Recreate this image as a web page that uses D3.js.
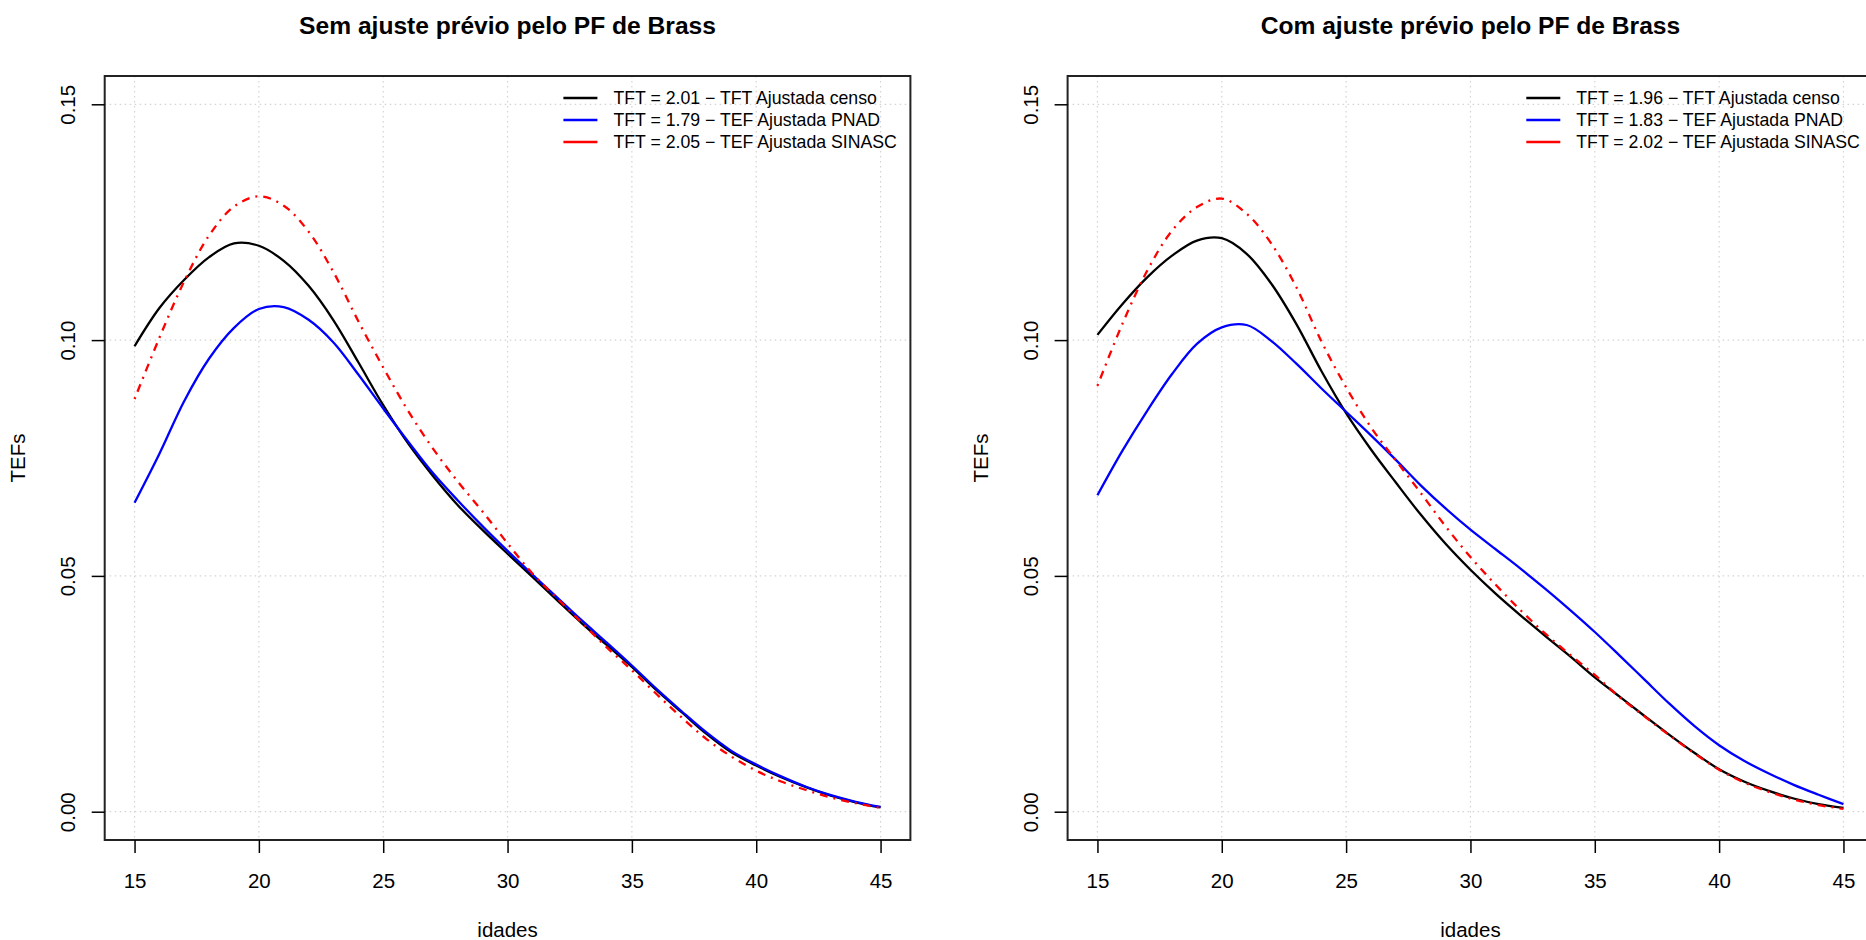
<!DOCTYPE html>
<html>
<head>
<meta charset="utf-8">
<script src="https://cdn.jsdelivr.net/npm/d3@7"></script>
<style>
  body { margin: 0; background: #fff; }
  text { font-family: "Liberation Sans", Arial, Helvetica, sans-serif; fill: #000; }
</style>
</head>
<body>
<div id="chart"></div>
<script>
const svgWidth = 1866
const svgHeight = 940

// Ages (x axis)
const ages = [15, 16, 17, 18, 19, 20, 21, 22, 23, 24, 25, 26, 27, 28, 29, 30,
  31, 32, 33, 34, 35, 36, 37, 38, 39, 40, 41, 42, 43, 44, 45]

const xTicks = [15, 20, 25, 30, 35, 40, 45]
const yTicks = [0, 0.05, 0.10, 0.15]
const yTickLabels = ["0.00", "0.05", "0.10", "0.15"]

// Left panel: sem ajuste previo
const semCenso = [0.0987, 0.1068, 0.1128, 0.1176, 0.1205, 0.1200, 0.1168, 0.1115, 0.1042, 0.0953,
  0.0862, 0.0781, 0.0712, 0.0650, 0.0597, 0.0547, 0.0498, 0.0448, 0.0399, 0.0353,
  0.0307, 0.0257, 0.0211, 0.0165, 0.0126, 0.0098, 0.0073, 0.0052, 0.0034, 0.0020, 0.0009]
const semPnad = [0.0655, 0.0759, 0.0871, 0.0961, 0.1026, 0.1066, 0.1070, 0.1043, 0.0995, 0.0927,
  0.0855, 0.0785, 0.0718, 0.0660, 0.0605, 0.0553, 0.0503, 0.0454, 0.0405, 0.0358,
  0.0310, 0.0260, 0.0213, 0.0168, 0.0129, 0.0100, 0.0075, 0.0053, 0.0035, 0.0021, 0.0010]
const semSinasc = [0.0875, 0.1005, 0.1125, 0.1222, 0.1283, 0.1305, 0.1285, 0.1230, 0.1144, 0.1040,
  0.0942, 0.0850, 0.0770, 0.0700, 0.0636, 0.0569, 0.0505, 0.0452, 0.0400, 0.0348,
  0.0300, 0.0249, 0.0200, 0.0154, 0.0117, 0.0087, 0.0064, 0.0046, 0.0030, 0.0018, 0.0008]

// Right panel: com ajuste previo
const comCenso = [0.1011, 0.1076, 0.1133, 0.1179, 0.1211, 0.1216, 0.1183, 0.1119, 0.1034, 0.0935,
  0.0845, 0.0768, 0.0698, 0.0630, 0.0568, 0.0513, 0.0463, 0.0417, 0.0373, 0.0330,
  0.0285, 0.0244, 0.0203, 0.0163, 0.0125, 0.0090, 0.0064, 0.0044, 0.0028, 0.0016, 0.0008]
const comPnad = [0.0671, 0.0765, 0.0850, 0.0928, 0.0992, 0.1027, 0.1032, 0.0998, 0.0950, 0.0898,
  0.0848, 0.0798, 0.0746, 0.0692, 0.0643, 0.0598, 0.0557, 0.0516, 0.0473, 0.0428,
  0.0381, 0.0331, 0.0280, 0.0229, 0.0182, 0.0141, 0.0108, 0.0081, 0.0057, 0.0036, 0.0016]
const comSinasc = [0.0903, 0.1034, 0.1147, 0.1232, 0.1282, 0.1300, 0.1268, 0.1204, 0.1112, 0.0998,
  0.0900, 0.0815, 0.0745, 0.0676, 0.0605, 0.0540, 0.0482, 0.0428, 0.0378, 0.0333,
  0.0290, 0.0243, 0.0202, 0.0162, 0.0124, 0.0089, 0.0062, 0.0042, 0.0026, 0.0014, 0.0006]

const titles = ["Sem ajuste prévio pelo PF de Brass", "Com ajuste prévio pelo PF de Brass"]
const legendSem = ["TFT = 2.01 − TFT Ajustada censo", "TFT = 1.79 − TEF Ajustada PNAD", "TFT = 2.05 − TEF Ajustada SINASC"]
const legendCom = ["TFT = 1.96 − TFT Ajustada censo", "TFT = 1.83 − TEF Ajustada PNAD", "TFT = 2.02 − TEF Ajustada SINASC"]

const seriesColors = ["#000000", "#0000ff", "#ff0000"]
const seriesDash = [null, null, "2,6,8,6"]

let svg = d3
  .select("#chart")
  .append("svg")
  .attr("width", svgWidth)
  .attr("height", svgHeight)

let baseFont = 20.5

function drawPanel(left, right, title, series, labels) {
  let top = 76
  let bottom = 840

  let x = d3.scaleLinear().domain([13.8, 46.2]).range([left, right])
  let y = d3.scaleLinear().domain([-0.006, 0.156]).range([bottom, top])

  let g = svg.append("g")

  // dotted grid
  g.selectAll(".vgrid")
    .data(xTicks)
    .enter()
    .append("line")
    .attr("x1", d => x(d))
    .attr("x2", d => x(d))
    .attr("y1", top)
    .attr("y2", bottom)
    .attr("stroke", "#d3d3d3")
    .attr("stroke-width", 1.2)
    .attr("stroke-dasharray", "1.5,3.5")

  g.selectAll(".hgrid")
    .data(yTicks)
    .enter()
    .append("line")
    .attr("x1", left)
    .attr("x2", right)
    .attr("y1", d => y(d))
    .attr("y2", d => y(d))
    .attr("stroke", "#d3d3d3")
    .attr("stroke-width", 1.2)
    .attr("stroke-dasharray", "1.5,3.5")

  // curves
  let line = d3.line()
    .x((d, i) => x(ages[i]))
    .y(d => y(d))
    .curve(d3.curveCatmullRom)

  series.forEach((s, i) => {
    g.append("path")
      .datum(s)
      .attr("d", line)
      .attr("fill", "none")
      .attr("stroke", seriesColors[i])
      .attr("stroke-width", 2.3)
      .attr("stroke-dasharray", seriesDash[i])
  })

  // box
  g.append("rect")
    .attr("x", left)
    .attr("y", top)
    .attr("width", right - left)
    .attr("height", bottom - top)
    .attr("fill", "none")
    .attr("stroke", "#222")
    .attr("stroke-width", 2)

  // x axis
  let xAxis = d3.axisBottom(x)
    .tickValues(xTicks)
    .tickSize(13)
    .tickPadding(20)
    .tickFormat(d3.format("d"))

  let xg = g.append("g")
    .attr("transform", `translate(0, ${bottom})`)
    .call(xAxis)
  xg.select(".domain").remove()
  xg.selectAll("line").attr("stroke", "#000").attr("stroke-width", 1.5)
  xg.selectAll("text")
    .attr("font-size", baseFont)
    .attr("font-family", "Liberation Sans, Arial, sans-serif")
    .attr("fill", "#000")

  // y axis with rotated labels
  let yAxis = d3.axisLeft(y)
    .tickValues(yTicks)
    .tickSize(13)
    .tickFormat((d, i) => yTickLabels[i])

  let yg = g.append("g")
    .attr("transform", `translate(${left}, 0)`)
    .call(yAxis)
  yg.select(".domain").remove()
  yg.selectAll("line").attr("stroke", "#000").attr("stroke-width", 1.5)
  yg.selectAll("text")
    .attr("x", null)
    .attr("dy", null)
    .attr("transform", "translate(-30, 0) rotate(-90)")
    .attr("text-anchor", "middle")
    .attr("font-size", baseFont)
    .attr("font-family", "Liberation Sans, Arial, sans-serif")
    .attr("fill", "#000")

  // titles and axis labels
  svg.append("text")
    .attr("x", (left + right) / 2)
    .attr("y", 34)
    .attr("text-anchor", "middle")
    .attr("font-size", 24.6)
    .attr("font-weight", "bold")
    .text(title)

  svg.append("text")
    .attr("x", (left + right) / 2)
    .attr("y", 937)
    .attr("text-anchor", "middle")
    .attr("font-size", baseFont)
    .text("idades")

  svg.append("text")
    .attr("transform", `translate(${left - 80}, ${(top + bottom) / 2}) rotate(-90)`)
    .attr("text-anchor", "middle")
    .attr("font-size", baseFont)
    .text("TEFs")

  // legend (top right, no box)
  let legend = g.append("g")
    .attr("transform", `translate(${right - 297}, ${top + 22})`)

  labels.forEach((lab, i) => {
    legend.append("line")
      .attr("x1", -50)
      .attr("x2", -16)
      .attr("y1", i * 22)
      .attr("y2", i * 22)
      .attr("stroke", seriesColors[i])
      .attr("stroke-width", 2.3)

    legend.append("text")
      .attr("x", 0)
      .attr("y", i * 22)
      .attr("dy", "0.35em")
      .attr("font-size", 17.7)
      .text(lab)
  })
}

drawPanel(104.7, 910.4, titles[0], [semCenso, semPnad, semSinasc], legendSem)
drawPanel(1067.6, 1873.3, titles[1], [comCenso, comPnad, comSinasc], legendCom)
</script>
</body>
</html>
